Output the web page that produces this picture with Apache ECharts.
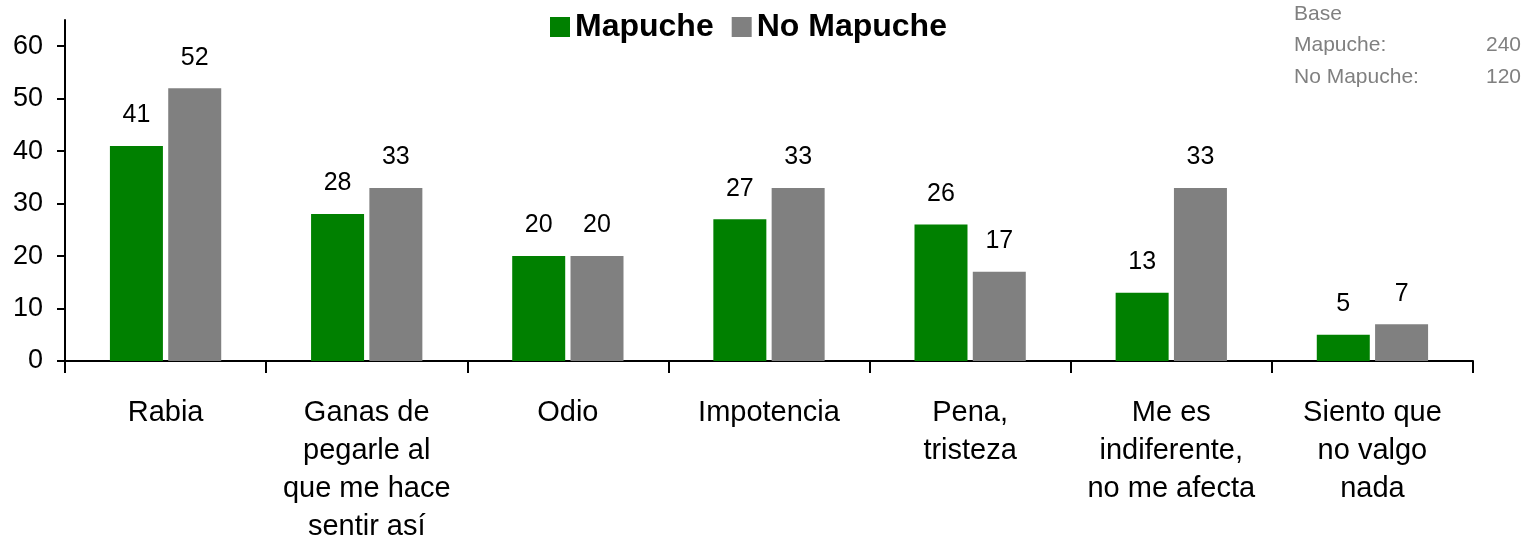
<!DOCTYPE html>
<html>
<head>
<meta charset="utf-8">
<script src="https://cdn.jsdelivr.net/npm/echarts@6/dist/echarts.min.js"></script>
<style>
  html, body { margin: 0; padding: 0; background: #fff; }
  #chart { width: 1530px; height: 553px; }
</style>
</head>
<body>
<div id="chart"></div>
<script>
var categories = ['Rabia', 'Ganas de\npegarle al\nque me hace\nsentir así', 'Odio', 'Impotencia', 'Pena,\ntristeza', 'Me es\nindiferente,\nno me afecta', 'Siento que\nno valgo\nnada']
var mapuche = [41, 28, 20, 27, 26, 13, 5]
var noMapuche = [52, 33, 20, 33, 17, 33, 7]
var yTicks = [0, 10, 20, 30, 40, 50, 60]
var baseLabels = ['Mapuche:', 'No Mapuche:']
var baseValues = [240, 120]

var font = 'Arial, "Liberation Sans", sans-serif'
var chart = echarts.init(document.getElementById('chart'))

function barSeries(name, data, color) {
  return {
    name: name,
    type: 'bar',
    data: data,
    barWidth: 53,
    barGap: '10%',
    itemStyle: { color: color },
    label: {
      show: true,
      position: 'top',
      distance: 18,
      color: '#000',
      fontFamily: font,
      fontSize: 25
    }
  }
}

var baseStyle = { fill: '#808080', font: '21px ' + font }

chart.setOption({
  backgroundColor: '#fff',
  animation: false,
  legend: {
    top: 6,
    left: 545,
    itemWidth: 20,
    itemHeight: 20,
    itemGap: 18,
    icon: 'rect',
    textStyle: {
      fontFamily: font,
      fontSize: 32,
      fontWeight: 'bold',
      color: '#000'
    },
    data: ['Mapuche', 'No Mapuche']
  },
  graphic: [
    { type: 'text', left: 1294, top: 4, style: Object.assign({ text: 'Base' }, baseStyle) },
    { type: 'text', left: 1294, top: 35, style: Object.assign({ text: baseLabels[0] }, baseStyle) },
    { type: 'text', right: 9, top: 35, style: Object.assign({ text: String(baseValues[0]) }, baseStyle) },
    { type: 'text', left: 1294, top: 67, style: Object.assign({ text: baseLabels[1] }, baseStyle) },
    { type: 'text', right: 9, top: 67, style: Object.assign({ text: String(baseValues[1]) }, baseStyle) }
  ],
  grid: {
    left: 65,
    right: 57,
    top: 20,
    bottom: 192,
    containLabel: false
  },
  xAxis: {
    type: 'category',
    data: categories,
    axisLine: { lineStyle: { color: '#000', width: 2 } },
    axisTick: { show: true, length: 12, lineStyle: { color: '#000', width: 2 } },
    axisLabel: {
      interval: 0,
      margin: 33,
      color: '#000',
      fontFamily: font,
      fontSize: 29,
      lineHeight: 38
    }
  },
  yAxis: {
    type: 'value',
    min: 0,
    max: 65,
    interval: 10,
    axisLine: { show: true, lineStyle: { color: '#000', width: 2 } },
    axisTick: { show: true, length: 8, customValues: yTicks, lineStyle: { color: '#000', width: 2 } },
    axisLabel: {
      customValues: yTicks,
      margin: 22,
      color: '#000',
      fontFamily: font,
      fontSize: 27
    },
    splitLine: { show: false }
  },
  series: [
    barSeries('Mapuche', mapuche, '#008000'),
    barSeries('No Mapuche', noMapuche, '#808080')
  ]
})
</script>
</body>
</html>
